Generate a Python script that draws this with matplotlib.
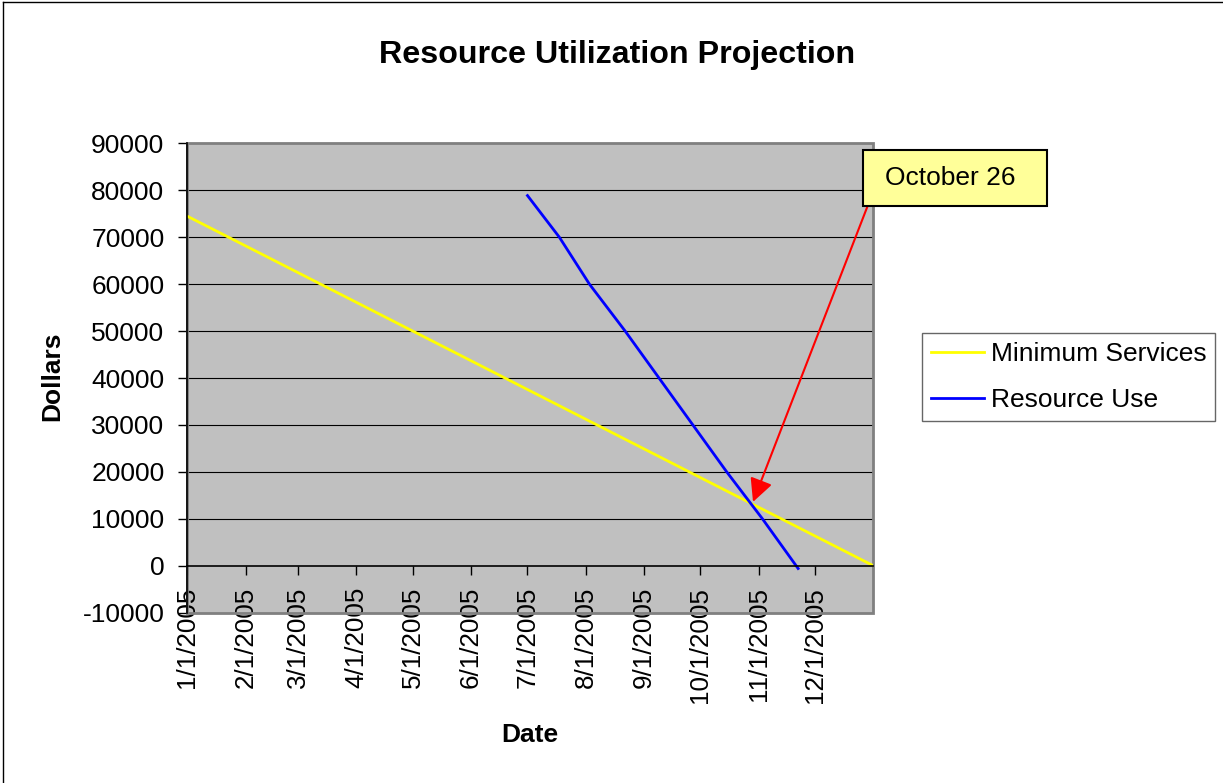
import matplotlib
matplotlib.use('Agg')
import matplotlib.pyplot as plt
from datetime import datetime
from matplotlib.patches import Rectangle
from matplotlib.lines import Line2D

plt.rcParams['font.family'] = ['Liberation Sans', 'DejaVu Sans']

# ---------------- data ----------------
title = "Resource Utilization Projection"
x_label = "Date"
y_label = "Dollars"
series_names = ["Minimum Services", "Resource Use"]

min_dates = ["2005-01-01", "2006-01-01"]
min_values = [74500, 0]

use_dates = ["2005-07-01", "2005-07-18", "2005-08-03", "2005-08-22", "2005-09-09",
             "2005-09-27", "2005-10-15", "2005-11-03", "2005-11-22"]
use_values = [78900, 70000, 60000, 50000, 40000, 30000, 20000, 10000, -600]

x_tick_labels = ["1/1/2005", "2/1/2005", "3/1/2005", "4/1/2005", "5/1/2005", "6/1/2005",
                 "7/1/2005", "8/1/2005", "9/1/2005", "10/1/2005", "11/1/2005", "12/1/2005"]
y_ticks = [-10000, 0, 10000, 20000, 30000, 40000, 50000, 60000, 70000, 80000, 90000]

callout_text = "October 26"
callout_date = "2005-10-29"
callout_value = 13600

# ---------------- figure ----------------
W, H = 1223, 783
fig = plt.figure(figsize=(W / 100, H / 100), dpi=100)
fig.patch.set_facecolor('white')

def fx(px):
    return px / W

def fy(py):
    return 1 - py / H

ax_left, ax_right, ax_top, ax_bottom = 187.3, 873.3, 143.5, 612.6
ax = fig.add_axes([fx(ax_left), fy(ax_bottom), (ax_right - ax_left) / W, (ax_bottom - ax_top) / H])
ax.set_facecolor('#C0C0C0')

to_dt = lambda s: datetime.strptime(s, "%Y-%m-%d")
md = [to_dt(s) for s in min_dates]
ud = [to_dt(s) for s in use_dates]

ax.set_xlim(datetime(2005, 1, 1), datetime(2006, 1, 1))
ax.set_ylim(y_ticks[0], y_ticks[-1])

# gridlines
for y in y_ticks[2:-1]:
    ax.axhline(y, color='black', lw=0.8, zorder=1)

ax.plot(md, min_values, color='#FFFF00', lw=2.0, label=series_names[0], zorder=3)
ax.plot(ud, use_values, color='#0000FF', lw=2.0, label=series_names[1], zorder=3)

# axes
ax.spines['top'].set_visible(False)
ax.spines['right'].set_visible(False)
ax.spines['bottom'].set_position(('data', 0))
ax.spines['bottom'].set_color('black')
ax.spines['bottom'].set_linewidth(1.2)
ax.spines['left'].set_color('black')
ax.spines['left'].set_linewidth(1.2)
ax.spines['left'].set_zorder(5)
ax.spines['bottom'].set_zorder(4)
border = Rectangle((0, 0), 1, 1, transform=ax.transAxes, fill=False,
                   edgecolor='#808080', lw=2, clip_on=False, zorder=2.4)
ax.add_patch(border)

ax.set_yticks(y_ticks)
ax.set_yticklabels([str(v) for v in y_ticks])
xt = [datetime.strptime(s, "%m/%d/%Y") for s in x_tick_labels]
ax.set_xticks(xt)
ax.set_xticklabels(x_tick_labels, rotation=90)
ax.tick_params(axis='y', direction='out', length=6.5, width=1, pad=10, labelsize=19, colors='black')
ax.tick_params(axis='x', direction='out', length=6.2, width=1, pad=9, labelsize=18.7, colors='black')
for t in ax.get_xticklabels():
    t.set_zorder(6)

# labels
fig.text(fx(617.5), fy(63), title, ha='center', va='baseline', fontsize=23.2, fontweight='bold')
fig.text(fx(52), fy(376), y_label, rotation=90, ha='center', va='center', fontsize=19, fontweight='bold')
fig.text(fx(530.3), fy(735), x_label, ha='center', va='center', fontsize=19, fontweight='bold')

# legend
leg = ax.legend(loc='center left', bbox_to_anchor=(fx(922), fy(377)), bbox_transform=fig.transFigure,
                frameon=True, fancybox=False, edgecolor='#404040', fontsize=19,
                handlelength=2.0, handletextpad=0.25, borderpad=0.35, labelspacing=0.85,
                borderaxespad=0)
leg.get_frame().set_linewidth(1.0)

# callout
ax.annotate('', xy=(to_dt(callout_date), callout_value), xycoords='data',
            xytext=(fx(868), fy(205)), textcoords='figure fraction',
            arrowprops=dict(arrowstyle='-|>,head_length=1.0,head_width=0.5', color='#FF0000',
                            lw=1.5, shrinkA=0, shrinkB=0, mutation_scale=14),
            annotation_clip=False)
box = Rectangle((fx(863.3), fy(205.7)), (1046.7 - 863.3) / W, (205.7 - 150) / H,
                transform=fig.transFigure, facecolor='#FFFF99', edgecolor='black', lw=1.5, zorder=5)
fig.add_artist(box)
fig.text(fx(885), fy(185), callout_text, ha='left', va='baseline', fontsize=19, zorder=6)

# outer frame lines
fig.add_artist(Line2D([fx(3), fx(3)], [0, fy(2)], color='black', lw=1))
fig.add_artist(Line2D([fx(3), 1], [fy(2), fy(2)], color='black', lw=1))

fig.savefig('out.png', dpi=100)
